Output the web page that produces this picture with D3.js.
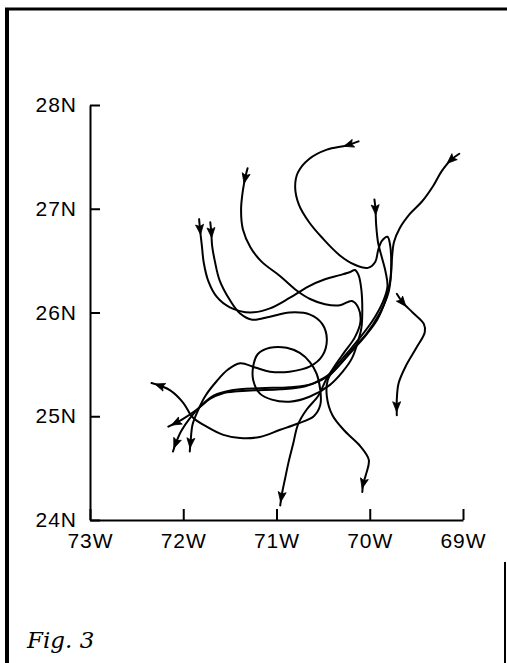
<!DOCTYPE html>
<html>
<head>
<meta charset="utf-8">
<script src="https://cdn.jsdelivr.net/npm/d3@7"></script>
<style>
    body { margin: 0; background: #fff; }
    svg { display: block; }
    .axis text { font-family: "Liberation Sans", Arial, sans-serif; font-size: 21px; letter-spacing: 1px; fill: #000; }
    .axis path, .axis line { stroke: #000; stroke-width: 2px; }
    .track { fill: none; stroke: #000; stroke-width: 2px; stroke-linejoin: round; stroke-linecap: round; }
</style>
</head>
<body>
<svg id="chart"></svg>
<script>

// tick values (degrees, west is negative)
const lon_ticks = [-73, -72, -71, -70, -69];
const lat_ticks = [24, 25, 26, 27, 28];

// drifter tracks, [lon, lat]
const track_a = [[-70.12, 27.65], [-70.25, 27.61], [-70.46, 27.57], [-70.65, 27.48], [-70.77, 27.35],
    [-70.80, 27.21], [-70.76, 27.04], [-70.65, 26.87], [-70.51, 26.72], [-70.32, 26.55], [-70.16, 26.46],
    [-70.02, 26.43], [-69.94, 26.49], [-69.91, 26.60], [-69.87, 26.69], [-69.81, 26.73], [-69.78, 26.64],
    [-69.77, 26.49], [-69.78, 26.31], [-69.83, 26.12], [-69.92, 25.93], [-70.07, 25.75], [-70.21, 25.61],
    [-70.35, 25.47], [-70.49, 25.37], [-70.69, 25.29], [-70.96, 25.26], [-71.23, 25.25], [-71.42, 25.24],
    [-71.58, 25.22], [-71.71, 25.17], [-71.86, 25.06], [-72.01, 24.97], [-72.16, 24.90]];

const track_b = [[-69.04, 27.53], [-69.13, 27.47], [-69.23, 27.36], [-69.32, 27.22], [-69.44, 27.07],
    [-69.57, 26.95], [-69.68, 26.81], [-69.74, 26.68], [-69.76, 26.54], [-69.77, 26.39], [-69.80, 26.19],
    [-69.90, 25.98], [-70.04, 25.79], [-70.18, 25.65], [-70.31, 25.51], [-70.44, 25.39], [-70.62, 25.31],
    [-70.86, 25.28], [-71.18, 25.27], [-71.48, 25.25], [-71.67, 25.20], [-71.81, 25.10], [-71.93, 24.98],
    [-72.02, 24.86], [-72.08, 24.74], [-72.11, 24.66]];

const track_c = [[-71.31, 27.39], [-71.33, 27.32], [-71.36, 27.18], [-71.38, 26.99], [-71.36, 26.80],
    [-71.28, 26.63], [-71.16, 26.49], [-70.96, 26.35], [-70.78, 26.21], [-70.64, 26.13], [-70.48, 26.08],
    [-70.32, 26.07], [-70.19, 26.11], [-70.12, 26.04], [-70.10, 25.91], [-70.16, 25.76], [-70.27, 25.62],
    [-70.38, 25.48], [-70.47, 25.35], [-70.55, 25.20], [-70.68, 25.06], [-70.77, 24.92], [-70.82, 24.74],
    [-70.87, 24.56], [-70.91, 24.39], [-70.94, 24.26], [-70.96, 24.14]];

const track_d = [[-71.83, 26.90], [-71.82, 26.80], [-71.80, 26.64], [-71.78, 26.48], [-71.73, 26.30],
    [-71.64, 26.15], [-71.50, 26.05], [-71.28, 26.00], [-71.07, 26.04], [-70.86, 26.14], [-70.66, 26.25],
    [-70.48, 26.32], [-70.32, 26.36], [-70.21, 26.39], [-70.16, 26.41], [-70.12, 26.36], [-70.09, 26.22],
    [-70.08, 26.02], [-70.09, 25.85], [-70.13, 25.71], [-70.19, 25.56], [-70.29, 25.43], [-70.43, 25.30],
    [-70.64, 25.19], [-70.86, 25.14], [-71.05, 25.16], [-71.18, 25.22], [-71.25, 25.35], [-71.25, 25.48],
    [-71.20, 25.60], [-71.07, 25.66], [-70.89, 25.66], [-70.75, 25.61], [-70.64, 25.52], [-70.57, 25.41],
    [-70.53, 25.25], [-70.53, 25.11], [-70.60, 25.00], [-70.77, 24.93], [-70.96, 24.87], [-71.18, 24.80],
    [-71.39, 24.79], [-71.57, 24.82], [-71.75, 24.90], [-71.90, 24.99], [-72.00, 25.13], [-72.14, 25.25],
    [-72.34, 25.32]];

const track_e = [[-71.71, 26.87], [-71.70, 26.78], [-71.69, 26.64], [-71.66, 26.49], [-71.61, 26.31],
    [-71.50, 26.12], [-71.39, 25.99], [-71.26, 25.93], [-71.07, 25.96], [-70.86, 26.00], [-70.64, 25.98],
    [-70.51, 25.89], [-70.46, 25.74], [-70.51, 25.58], [-70.64, 25.48], [-70.86, 25.43], [-71.07, 25.43],
    [-71.23, 25.47], [-71.39, 25.51], [-71.52, 25.45], [-71.64, 25.34], [-71.76, 25.20], [-71.84, 25.06],
    [-71.90, 24.92], [-71.92, 24.77], [-71.93, 24.66]];

const track_f = [[-69.95, 27.09], [-69.94, 27.01], [-69.93, 26.83], [-69.91, 26.67], [-69.87, 26.53],
    [-69.83, 26.39], [-69.81, 26.25], [-69.86, 26.10], [-69.97, 25.92], [-70.12, 25.74], [-70.25, 25.60],
    [-70.37, 25.47], [-70.45, 25.35], [-70.46, 25.19], [-70.40, 25.01], [-70.27, 24.86], [-70.10, 24.71],
    [-70.01, 24.58], [-70.04, 24.44], [-70.07, 24.35], [-70.08, 24.27]];

const track_g = [[-69.71, 26.18], [-69.65, 26.10], [-69.54, 26.00], [-69.42, 25.89], [-69.41, 25.81],
    [-69.50, 25.66], [-69.61, 25.49], [-69.69, 25.32], [-69.71, 25.16], [-69.71, 25.01]];

const tracks = [track_a, track_b, track_c, track_d, track_e, track_f, track_g];


const svg = d3.select("#chart")
    .attr("width", 507)
    .attr("height", 663);

var xScale = d3.scaleLinear()
    .domain([-73, -69])
    .range([90, 463]);

var yScale = d3.scaleLinear()
    .domain([24, 28])
    .range([520, 105]);

// frame of the scanned page
svg.append("line")
    .attr("x1", 7).attr("x2", 7)
    .attr("y1", 8).attr("y2", 663)
    .attr("stroke", "#000").attr("stroke-width", 4);

svg.append("line")
    .attr("x1", 5).attr("x2", 507)
    .attr("y1", 9).attr("y2", 9)
    .attr("stroke", "#000").attr("stroke-width", 3);

svg.append("line")
    .attr("x1", 505).attr("x2", 505)
    .attr("y1", 562).attr("y2", 663)
    .attr("stroke", "#000").attr("stroke-width", 2);

//y axis, ticks point into the plot
svg.append("g")
    .attr("class", "axis y-axis")
    .attr("transform", "translate(" + xScale(-73) + ",0)")
    .call(d3.axisLeft(yScale)
        .tickValues(lat_ticks)
        .tickSizeInner(-10)
        .tickSizeOuter(0)
        .tickPadding(13)
        .tickFormat(function (d) { return d + "N"; })
    );

//x axis
svg.append("g")
    .attr("class", "axis x-axis")
    .attr("transform", "translate(0," + yScale(24) + ")")
    .call(d3.axisBottom(xScale)
        .tickValues(lon_ticks)
        .tickSizeInner(-11)
        .tickSizeOuter(0)
        .tickPadding(13)
        .tickFormat(function (d) { return Math.abs(d) + "W"; })
    );

var line = d3.line()
    .x(function (d) { return xScale(d[0]); })
    .y(function (d) { return yScale(d[1]); })
    .curve(d3.curveCatmullRom.alpha(0.5));

var paths = svg.selectAll(".track")
    .data(tracks)
    .enter()
    .append("path")
    .attr("class", "track")
    .attr("d", line);

// little arrow heads near start and end of every track
paths.each(function () {
    var node = this,
        len = node.getTotalLength();

    [10, len - 9].forEach(function (at) {
        var p0 = node.getPointAtLength(at - 1),
            p1 = node.getPointAtLength(at + 1),
            angle = Math.atan2(p1.y - p0.y, p1.x - p0.x) * 180 / Math.PI,
            p = node.getPointAtLength(at);

        svg.append("path")
            .attr("d", "M5.5,0L-4.5,-4L-2.5,0L-4.5,4Z")
            .attr("fill", "#000")
            .attr("stroke", "#000")
            .attr("stroke-width", 0.8)
            .attr("transform", "translate(" + p.x + "," + p.y + ") rotate(" + angle + ")");
    });
});

svg.append("text")
    .attr("x", 27)
    .attr("y", 648)
    .style("font-family", "'DejaVu Serif', serif")
    .style("font-style", "italic")
    .style("font-size", "23px")
    .text("Fig. 3");

</script>
</body>
</html>
